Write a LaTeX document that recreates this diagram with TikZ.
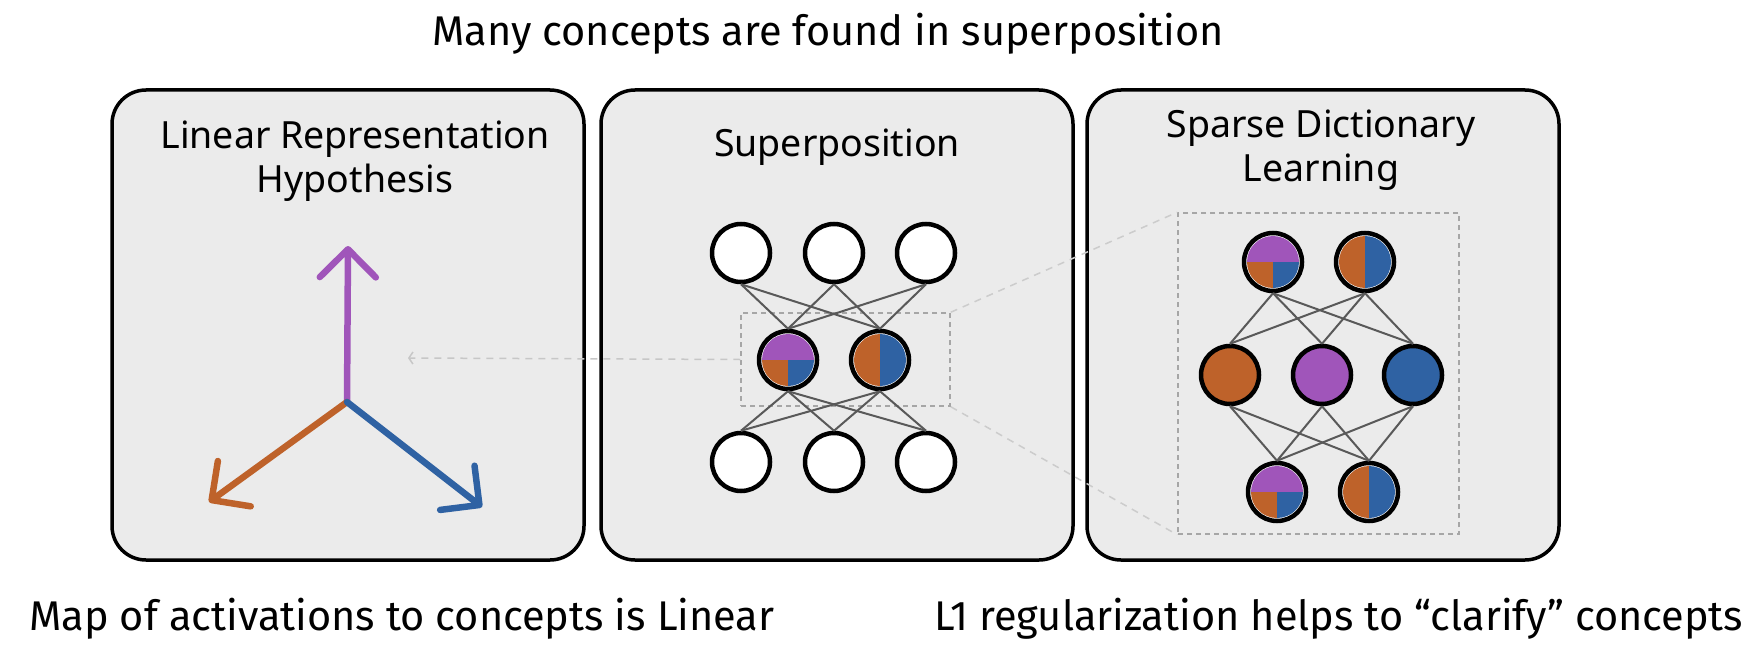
\documentclass[tikz,border=0pt]{standalone}
\usepackage{fontspec}
\setmainfont{Fira Sans}
\newfontfamily\panelfont{Noto Sans}
\usetikzlibrary{arrows.meta,positioning,calc}
\definecolor{cpurple}{HTML}{A055BA}
\definecolor{corange}{HTML}{BE622A}
\definecolor{cblue}{HTML}{2F62A3}
\definecolor{panelgray}{HTML}{EBEBEB}
\tikzset{
  panel/.style={draw,line width=3.5pt,fill=panelgray,rounded corners=34pt,
    minimum width=472pt,minimum height=470pt},
  ptitle/.style={font=\panelfont\fontsize{37.5}{44}\selectfont,align=center,inner sep=0pt},
  caption/.style={font=\fontsize{41.5}{46}\selectfont,inner sep=0pt},
  neuron/.style={circle,draw,line width=4.5pt,fill=white,minimum size=58pt,inner sep=0pt},
  wire/.style={line width=2pt,black!65},
  zoombox/.style={draw=black!35,line width=1.5pt,dash pattern=on 5pt off 4pt},
  guide/.style={draw=black!20,line width=1.5pt,dash pattern=on 7pt off 6pt},
  vec/.style={line width=6.5pt,line cap=round,
    -{Straight Barb[round,length=28pt,width=56pt]}},
  mixthree/.style={path picture={
    \coordinate (pc) at (path picture bounding box.center);
    \clip (pc) circle[radius=26pt];
    \fill[cpurple] ([shift={(-30pt,0pt)}]pc) rectangle ([shift={(30pt,30pt)}]pc);
    \fill[corange] ([shift={(-30pt,-30pt)}]pc) rectangle (pc);
    \fill[cblue] ([shift={(30pt,-30pt)}]pc) rectangle (pc);
  }},
  mixtwo/.style={path picture={
    \coordinate (pc) at (path picture bounding box.center);
    \clip (pc) circle[radius=26pt];
    \fill[corange] ([shift={(-30pt,-30pt)}]pc) rectangle ([shift={(0pt,30pt)}]pc);
    \fill[cblue] ([shift={(30pt,-30pt)}]pc) rectangle ([shift={(0pt,30pt)}]pc);
  }}
}

\begin{document}
\begin{tikzpicture}[x=1pt,y=-1pt]
  \useasboundingbox (0,0) rectangle (1760,658);

  % headings
  \node[caption,anchor=base] (head) at (828,46) {Many concepts are found in superposition};
  \node[caption,anchor=base] (capl) at (402,630) {Map of activations to concepts is Linear};
  \node[caption,anchor=base] (capr) at (1339,630) {L1 regularization helps to “clarify” concepts};

  % panels
  \node[panel] (lrh) at (348,325) {};
  \node[panel] (sup) at (837,325) {};
  \node[panel] (sdl) at (1323,325) {};
  \node[ptitle,anchor=base] (lrhtitle) at (355,192) {Linear Representation\\Hypothesis};
  \node[ptitle,anchor=base] (suptitle) at (837,157) {Superposition};
  \node[ptitle,anchor=base] (sdltitle) at (1321,181) {Sparse Dictionary\\Learning};

  % linear directions
  \coordinate (org) at (347,402);
  \coordinate (vup) at (348,246);
  \coordinate (vleft) at (209,502);
  \coordinate (vright) at (482,507);
  \draw[vec,cpurple] (org) -- (vup);
  \draw[vec,corange] (org) -- (vleft);
  \draw[vec,cblue] (org) -- (vright);

  % zoom boxes
  \node[zoombox,minimum width=209pt,minimum height=93pt] (zoomA) at (845.5,359.5) {};
  \node[zoombox,minimum width=281pt,minimum height=321pt] (zoomB) at (1318.5,373.5) {};
  \coordinate (lrhend) at (408,358);
  \draw[guide,black!22,-{Straight Barb[length=4pt,width=12pt]}] (zoomA.west) -- (lrhend);
  \draw[guide] (zoomA.north east) -- (zoomB.north west);
  \draw[guide] (zoomA.south east) -- (zoomB.south west);

  % superposition network
  \node[neuron] (t1) at (741,253) {};
  \node[neuron] (t2) at (834,253) {};
  \node[neuron] (t3) at (926,253) {};
  \node[neuron,mixthree] (m1) at (788,360) {};
  \node[neuron,mixtwo] (m2) at (880,360) {};
  \node[neuron] (b1) at (741,462) {};
  \node[neuron] (b2) at (834,462) {};
  \node[neuron] (b3) at (926,462) {};
  \foreach \t in {t1,t2,t3}
    \foreach \m in {m1,m2}
      \draw[wire] (\t.south) -- (\m.north);
  \foreach \m in {m1,m2}
    \foreach \b in {b1,b2,b3}
      \draw[wire] (\m.south) -- (\b.north);

  % dictionary network
  \node[neuron,mixthree] (p1) at (1273,262) {};
  \node[neuron,mixtwo] (p2) at (1365,262) {};
  \node[neuron,fill=corange] (c1) at (1230,375) {};
  \node[neuron,fill=cpurple] (c2) at (1322,375) {};
  \node[neuron,fill=cblue] (c3) at (1413,375) {};
  \node[neuron,mixthree] (q1) at (1277,492) {};
  \node[neuron,mixtwo] (q2) at (1369,492) {};
  \foreach \p in {p1,p2}
    \foreach \c in {c1,c2,c3}
      \draw[wire] (\p.south) -- (\c.north);
  \foreach \c in {c1,c2,c3}
    \foreach \q in {q1,q2}
      \draw[wire] (\c.south) -- (\q.north);
\end{tikzpicture}
\end{document}
